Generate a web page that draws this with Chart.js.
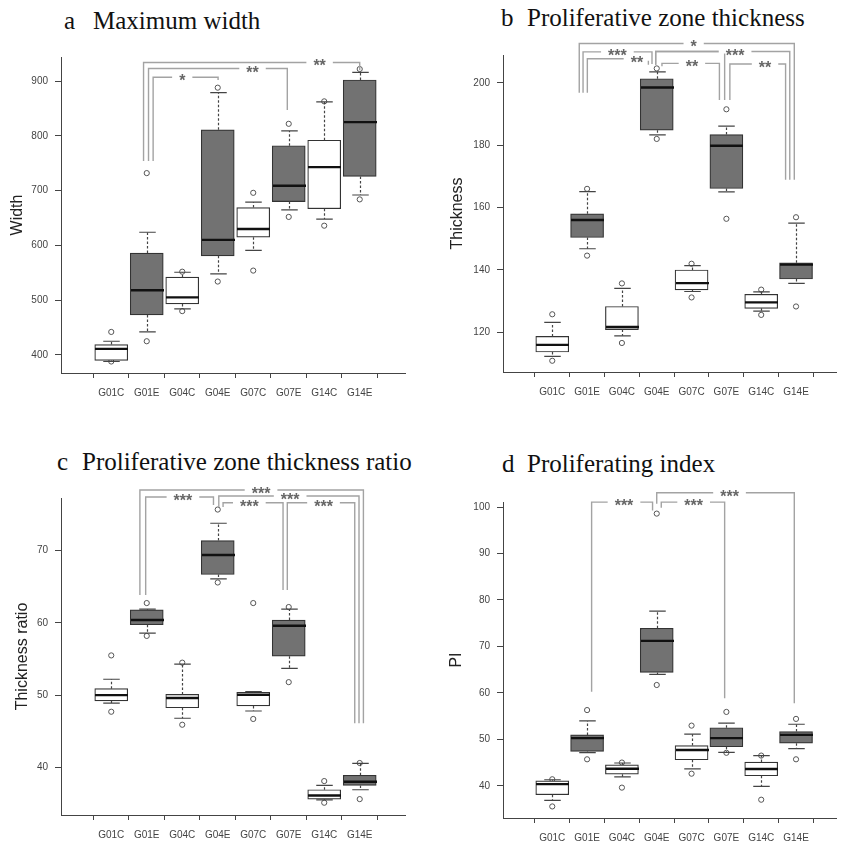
<!DOCTYPE html>
<html>
<head>
<meta charset="utf-8">
<script src="https://cdn.jsdelivr.net/npm/chart.js@4.4.1/dist/chart.umd.min.js"></script>
<style>
  body { margin: 0; background: #fff; }
  #wrap { position: relative; width: 841px; height: 846px; }
  canvas { position: absolute; }
  .title { position: absolute; font-family: "Liberation Serif", "Times New Roman", serif; font-size: 25px; line-height: 1; color: #111; white-space: nowrap; }
  .title span { position: absolute; top: 0; }
</style>
</head>
<body>
<div id="wrap">
  <div class="title" style="left:0;top:8px"><span style="left:64px">a</span><span style="left:93px">Maximum width</span></div>
  <div class="title" style="left:420px;top:5px"><span style="left:81px">b</span><span style="left:107px">Proliferative zone thickness</span></div>
  <div class="title" style="left:0;top:449px"><span style="left:57px">c</span><span style="left:82px">Proliferative zone thickness ratio</span></div>
  <div class="title" style="left:420px;top:451px"><span style="left:82px">d</span><span style="left:107px">Proliferating index</span></div>
  <canvas id="ca" width="420" height="420" style="left:0;top:0"></canvas>
  <canvas id="cb" width="421" height="420" style="left:420px;top:0"></canvas>
  <canvas id="cc" width="420" height="426" style="left:0;top:420px"></canvas>
  <canvas id="cd" width="421" height="426" style="left:420px;top:420px"></canvas>
</div>
<script>
const groups = ["G01C", "G01E", "G04C", "G04E", "G07C", "G07E", "G14C", "G14E"];

// a  Maximum width
const widthTicks = [400, 500, 600, 700, 800, 900];
const widthLow = [388, 442, 484, 548, 591, 665, 648, 692];
const widthQ1 = [390, 473, 493, 581, 615, 680, 667, 726];
const widthMed = [411, 518, 505, 610, 630, 709, 743, 825];
const widthQ3 = [419, 586, 542, 811, 669, 782, 792, 902];
const widthHigh = [425, 624, 551, 879, 679, 809, 862, 916];
const widthOut = [[442, 388], [732, 425], [552, 480], [888, 534], [696, 554], [822, 652], [863, 636], [922, 684]];
// [from, to, level, left end, right end, label position, label]
const widthSig = [
  [2.18, 4.01, 907, 754, 902, 3.0, "*"],
  [2.05, 5.96, 923, 754, 847, 4.98, "**"],
  [1.91, 8.0, 934, 754, 920, 6.87, "**"]
];

// b  Proliferative zone thickness
const thickTicks = [120, 140, 160, 180, 200];
const thickLow = [112.3, 146.8, 118.9, 183.3, 133.1, 165, 126.8, 135.7];
const thickQ1 = [113.7, 150.4, 120.9, 184.8, 133.6, 166.1, 127.7, 137.1];
const thickMed = [116, 156, 121.7, 198.5, 135.8, 179.8, 129.6, 141.7];
const thickQ3 = [118.7, 158, 128.3, 201.3, 140, 183.4, 132.2, 142.3];
const thickHigh = [123.2, 165.1, 134.1, 203.5, 141.4, 186.1, 133, 155];
const thickOut = [[125.8, 110.9], [166, 144.6], [135.7, 116.6], [204.6, 182], [142, 131.2], [191.5, 156.4], [133.7, 125.6], [156.9, 128.3]];
const thickSig = [
  [1.775, 7.95, 212.6, 196.8, 168.9, 5.06, "*"],
  [1.884, 3.864, 209.9, 196.8, 206.0, 2.87, "***"],
  [2.007, 3.76, 207.7, 196.8, 205.8, 3.43, "**"],
  [3.97, 7.82, 210.0, 205.8, 168.9, 6.25, "***"],
  [3.97, 5.95, 210.0, 205.8, 194.5, 0, ""],
  [4.15, 5.80, 206.2, 205.3, 194.5, 5.01, "**"],
  [6.10, 7.70, 206.0, 194.5, 168.9, 7.11, "**"]
];

// c  Proliferative zone thickness ratio
const ratioTicks = [40, 50, 60, 70];
const ratioLow = [48.9, 58.6, 46.8, 66.1, 47.8, 53.7, 35.5, 36.9];
const ratioQ1 = [49.2, 59.75, 48.25, 66.7, 48.5, 55.4, 35.6, 37.5];
const ratioMed = [50, 60.4, 49.6, 69.4, 50.05, 59.6, 36.1, 38];
const ratioQ3 = [50.9, 61.8, 50.1, 71.4, 50.4, 60.4, 36.9, 38.9];
const ratioHigh = [52.2, 61.9, 54.3, 73.8, 50.5, 61.9, 37.5, 40.55];
const ratioOut = [[55.5, 47.7], [62.75, 58.2], [54.5, 45.9], [75.7, 65.6], [62.75, 46.7], [62.2, 51.8], [38.1, 35.1], [40.6, 35.6]];
const ratioSig = [
  [1.807, 8.104, 78.4, 63.86, 46.1, 5.22, "***"],
  [1.97, 3.88, 77.44, 63.86, 76.33, 3.02, "***"],
  [4.03, 7.98, 77.58, 76.05, 46.1, 6.04, "***"],
  [4.15, 5.84, 76.65, 76.05, 64.56, 4.89, "***"],
  [5.96, 7.86, 76.65, 64.56, 46.1, 6.98, "***"]
];

// d  Proliferating index
const piTicks = [40, 50, 60, 70, 80, 90, 100];
const piLow = [36.85, 47.15, 41.9, 64.0, 43.65, 47.2, 39.85, 48.0];
const piQ1 = [38.07, 47.4, 42.5, 64.4, 45.6, 48.4, 42.15, 49.17];
const piMed = [40.36, 50.25, 43.65, 71.2, 47.7, 50.25, 43.6, 50.95];
const piQ3 = [41.07, 50.95, 44.5, 73.9, 48.66, 52.5, 45.1, 51.67];
const piHigh = [41.3, 53.96, 44.9, 77.6, 51.1, 53.5, 46.5, 53.25];
const piOut = [[41.4, 35.55], [56.3, 45.7], [45.0, 39.6], [98.6, 61.7], [52.95, 42.6], [55.9, 47.1], [46.5, 37.0], [54.4, 45.7]];
const piSig = [
  [2.13, 3.88, 101.07, 60.26, 99.29, 3.06, "***"],
  [4.0, 7.95, 103.1, 100.73, 57.77, 6.09, "***"],
  [4.13, 5.95, 101.07, 99.87, 58.84, 5.06, "***"]
];

const FONT = "'Liberation Sans', Arial, sans-serif";
const BOX_W = 33;

function boxPanel(id, p) {
  const boxes = groups.map((g, i) => ({ x: i + 1, y: [p.q1[i], p.q3[i]] }));
  const outliers = [];
  p.out.forEach((vals, i) => vals.forEach(v => outliers.push({ x: i + 1, y: v })));

  const extras = {
    id: "extras",
    afterDatasetsDraw(chart) {
      const ctx = chart.ctx;
      const xs = chart.scales.x, ys = chart.scales.y;
      ctx.save();
      groups.forEach((g, i) => {
        const x = Math.round(xs.getPixelForValue(i + 1)) + 0.5;
        const yLow = ys.getPixelForValue(p.low[i]);
        const yHigh = ys.getPixelForValue(p.high[i]);
        const yQ1 = ys.getPixelForValue(p.q1[i]);
        const yQ3 = ys.getPixelForValue(p.q3[i]);
        // whiskers
        ctx.strokeStyle = "#444";
        ctx.lineWidth = 1.2;
        ctx.setLineDash([2.5, 2]);
        ctx.beginPath();
        ctx.moveTo(x, yQ3); ctx.lineTo(x, yHigh);
        ctx.moveTo(x, yQ1); ctx.lineTo(x, yLow);
        ctx.stroke();
        ctx.setLineDash([]);
        ctx.beginPath();
        ctx.moveTo(x - BOX_W / 4, yHigh); ctx.lineTo(x + BOX_W / 4, yHigh);
        ctx.moveTo(x - BOX_W / 4, yLow); ctx.lineTo(x + BOX_W / 4, yLow);
        ctx.stroke();
        // median
        const yM = ys.getPixelForValue(p.med[i]);
        ctx.strokeStyle = "#111";
        ctx.lineWidth = 2.4;
        ctx.beginPath();
        ctx.moveTo(x - BOX_W / 2, yM); ctx.lineTo(x + BOX_W / 2, yM);
        ctx.stroke();
      });

      // significance brackets
      ctx.strokeStyle = "#a3a3a3";
      ctx.lineWidth = 1.4;
      p.sig.forEach(([a, b, lvl, ea, eb]) => {
        const xa = xs.getPixelForValue(a), xb = xs.getPixelForValue(b);
        const yl = ys.getPixelForValue(lvl);
        ctx.beginPath();
        ctx.moveTo(xa, ys.getPixelForValue(ea));
        ctx.lineTo(xa, yl);
        ctx.lineTo(xb, yl);
        ctx.lineTo(xb, ys.getPixelForValue(eb));
        ctx.stroke();
      });
      ctx.font = "bold 16px " + FONT;
      ctx.textAlign = "center";
      ctx.textBaseline = "alphabetic";
      p.sig.forEach(([a, b, lvl, ea, eb, tx, label]) => {
        if (!label) return;
        const x = xs.getPixelForValue(tx), y = ys.getPixelForValue(lvl);
        const w = ctx.measureText(label).width + 14;
        ctx.fillStyle = "#fff";
        ctx.fillRect(x - w / 2, y - 2, w, 4);
        ctx.fillStyle = "#666";
        ctx.fillText(label, x, y + 9);
      });
      ctx.restore();
    }
  };

  return new Chart(document.getElementById(id), {
    type: "bar",
    data: {
      datasets: [
        {
          data: boxes,
          backgroundColor: groups.map(g => g.endsWith("E") ? "#727272" : "#ffffff"),
          borderColor: "#333",
          borderWidth: 1.2,
          borderSkipped: false,
          barThickness: BOX_W
        },
        {
          type: "scatter",
          data: outliers,
          pointStyle: "circle",
          pointRadius: 2.6,
          pointBackgroundColor: "rgba(255,255,255,0)",
          pointBorderColor: "#555",
          pointBorderWidth: 1
        }
      ]
    },
    options: {
      responsive: false,
      animation: false,
      devicePixelRatio: 1,
      layout: { padding: { top: p.top, right: p.right, left: 0, bottom: 0 } },
      plugins: { legend: { display: false }, tooltip: { enabled: false } },
      scales: {
        x: {
          type: "linear",
          min: p.xMin,
          max: p.xMax,
          afterBuildTicks: s => { s.ticks = groups.map((g, i) => ({ value: i + 1 })); },
          afterFit: s => { s.height = p.xHeight; },
          ticks: {
            autoSkip: false,
            maxRotation: 0,
            padding: 9,
            color: "#444",
            font: { family: FONT, size: 10 },
            callback: v => groups[v - 1]
          },
          grid: { drawOnChartArea: false, tickLength: 5, color: "#444" },
          border: { color: "#444", width: 1 }
        },
        y: {
          type: "linear",
          min: p.yMin,
          max: p.yMax,
          afterBuildTicks: s => { s.ticks = p.ticks.map(v => ({ value: v })); },
          afterFit: s => { s.width = p.left; },
          ticks: { padding: 7, color: "#444", font: { family: FONT, size: 10 } },
          grid: { drawOnChartArea: false, tickLength: 6, color: "#444" },
          border: { color: "#444", width: 1 },
          title: {
            display: true,
            text: p.title,
            color: "#222",
            font: { family: FONT, size: 16 },
            padding: { top: p.titlePad, bottom: 0 }
          }
        }
      }
    },
    plugins: [extras]
  });
}

boxPanel("ca", {
  low: widthLow, q1: widthQ1, med: widthMed, q3: widthQ3, high: widthHigh, out: widthOut, sig: widthSig,
  ticks: widthTicks, yMin: 367, yMax: 944, xMin: 0.19, xMax: 8.67,
  top: 57, right: 15, left: 61, xHeight: 47, title: "Width", titlePad: 8
});
boxPanel("cb", {
  low: thickLow, q1: thickQ1, med: thickMed, q3: thickQ3, high: thickHigh, out: thickOut, sig: thickSig,
  ticks: thickTicks, yMin: 107.3, yMax: 208.9, xMin: 0.183, xMax: 8.55,
  top: 55, right: 0, left: 83, xHeight: 48, title: "Thickness", titlePad: 28
});
boxPanel("cc", {
  low: ratioLow, q1: ratioQ1, med: ratioMed, q3: ratioQ3, high: ratioHigh, out: ratioOut, sig: ratioSig,
  ticks: ratioTicks, yMin: 33.4, yMax: 77.3, xMin: 0.19, xMax: 8.67,
  top: 78, right: 15, left: 61, xHeight: 31, title: "Thickness ratio", titlePad: 13
});
boxPanel("cd", {
  low: piLow, q1: piQ1, med: piMed, q3: piQ3, high: piHigh, out: piOut, sig: piSig,
  ticks: piTicks, yMin: 33.06, yMax: 101.1, xMin: 0.183, xMax: 8.55,
  top: 82, right: 0, left: 83, xHeight: 28, title: "PI", titlePad: 27
});
</script>
</body>
</html>
